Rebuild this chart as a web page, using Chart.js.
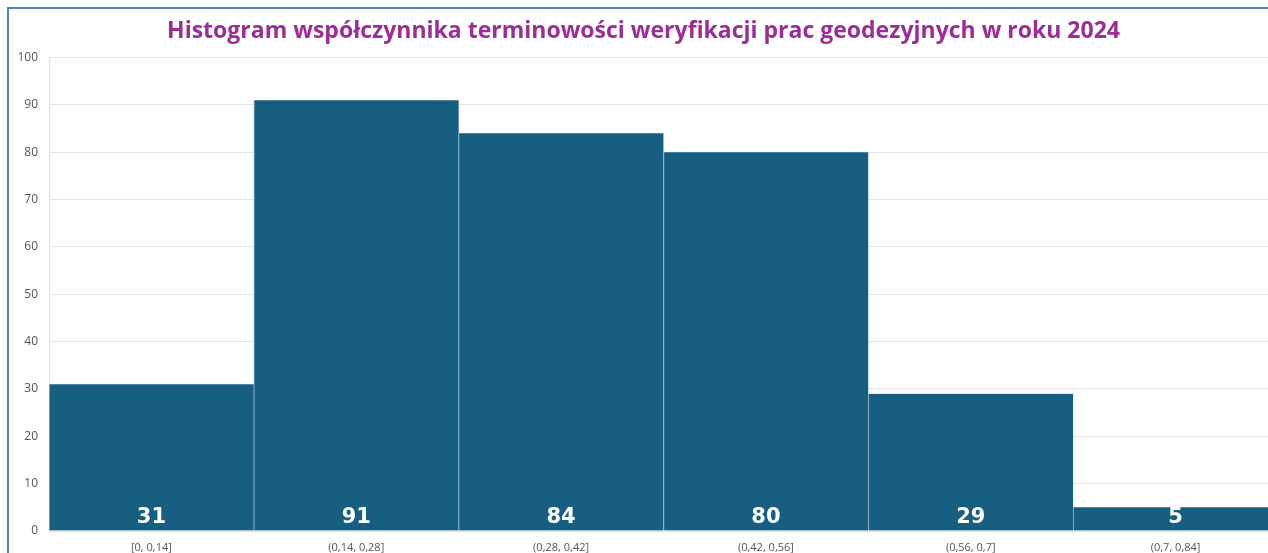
<!DOCTYPE html>
<html>
<head>
<meta charset="utf-8">
<script src="https://cdn.jsdelivr.net/npm/chart.js@4.4.1/dist/chart.umd.min.js"></script>
<style>
  html, body { margin: 0; padding: 0; background: #fff; overflow: hidden; }
  #frame {
    position: absolute; left: 7px; top: 7px;
    border-top: 2px solid #4f81bd; border-left: 2px solid #4f81bd;
    width: 1290px; height: 560px;
  }
  #hist { display: block; }
</style>
</head>
<body>
<div id="frame"><canvas id="hist" width="1278" height="546"></canvas></div>
<script>
// Przedziały i liczności
const categories = ["[0, 0,14]", "(0,14, 0,28]", "(0,28, 0,42]", "(0,42, 0,56]", "(0,56, 0,7]", "(0,7, 0,84]"];
const counts = [31, 91, 84, 80, 29, 5];
const yTicks = [0, 10, 20, 30, 40, 50, 60, 70, 80, 90, 100];

// white count labels at the bottom of every bar
const barLabels = {
  id: "barLabels",
  afterDatasetsDraw(chart) {
    const ctx = chart.ctx;
    const meta = chart.getDatasetMeta(0);
    const y = chart.scales.y.getPixelForValue(0);
    ctx.save();
    ctx.fillStyle = "#ffffff";
    ctx.font = "bold 21px 'DejaVu Sans'";
    ctx.textAlign = "center";
    ctx.textBaseline = "middle";
    meta.data.forEach((bar, i) => {
      ctx.fillText(String(counts[i]), bar.x, y - 13);
    });
    ctx.restore();
  }
};

new Chart(document.getElementById("hist"), {
  type: "bar",
  data: {
    labels: categories,
    datasets: [{
      data: counts,
      backgroundColor: "#175f80",
      borderColor: "#8fb3c6",
      borderWidth: { left: 1, right: 0, top: 0, bottom: 0 },
      barPercentage: 1,
      categoryPercentage: 1
    }]
  },
  options: {
    responsive: false,
    animation: false,
    layout: { padding: { left: 0, right: 9, top: 0, bottom: 0 } },
    plugins: {
      legend: { display: false },
      tooltip: { enabled: false },
      title: {
        display: true,
        text: "Histogram współczynnika terminowości weryfikacji prac geodezyjnych w roku 2024",
        color: "#9b2d96",
        font: { family: "'Open Sans'", size: 23, weight: "bold" },
        padding: { top: 9, bottom: 12 }
      }
    },
    scales: {
      x: {
        grid: { display: false, drawTicks: false },
        border: { color: "#e4e4e4" },
        ticks: { color: "#555", font: { family: "'Open Sans'", size: 11 }, padding: 10, maxRotation: 0 },
        afterFit(s) { s.height = 24; }
      },
      y: {
        min: 0,
        max: 100,
        afterBuildTicks(s) { s.ticks = yTicks.map(v => ({ value: v })); },
        grid: { color: "#e4e4e4", drawTicks: false },
        border: { color: "#e4e4e4" },
        ticks: { color: "#555", font: { family: "'Open Sans'", size: 12 }, padding: 11 },
        afterFit(s) { s.width = 40; }
      }
    }
  },
  plugins: [barLabels]
});
</script>
</body>
</html>
